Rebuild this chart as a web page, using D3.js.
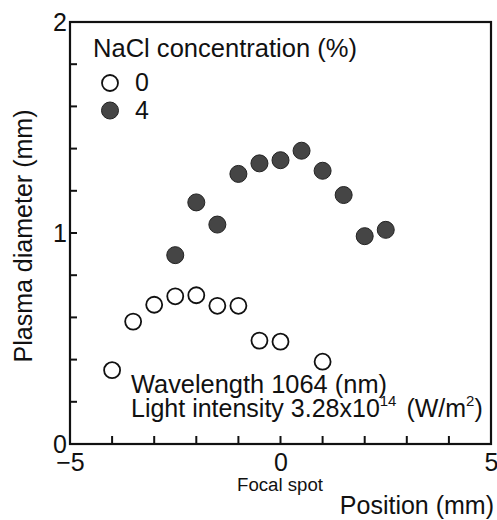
<!DOCTYPE html>
<html>
<head>
<meta charset="utf-8">
<script src="https://cdn.jsdelivr.net/npm/d3@7"></script>
<style>
  body { margin: 0; background: #fff; }
  svg text { font-family: "Liberation Sans", Arial, sans-serif; fill: #111; }
</style>
</head>
<body>
<svg id="chart" width="497" height="520"></svg>
<script>
// data
const posOpen = [-4, -3.5, -3, -2.5, -2, -1.5, -1, -0.5, 0, 1];
const diaOpen = [0.35, 0.58, 0.66, 0.70, 0.705, 0.655, 0.655, 0.49, 0.485, 0.39];
const posFilled = [-2.5, -2, -1.5, -1, -0.5, 0, 0.5, 1, 1.5, 2, 2.5];
const diaFilled = [0.895, 1.145, 1.04, 1.28, 1.33, 1.345, 1.39, 1.295, 1.18, 0.985, 1.015];

const xTicks = [-5, -4, -3, -2, -1, 0, 1, 2, 3, 4, 5];
const xTickLabels = {"-5": "\u22125", "0": "0", "5": "5"};
const yTicks = [0, 0.2, 0.4, 0.6, 0.8, 1, 1.2, 1.4, 1.6, 1.8, 2];
const yTickLabels = {"0": "0", "1": "1", "2": "2"};
const legendItems = [{label: "0", filled: false}, {label: "4", filled: true}];

const svg = d3.select("#chart");
const x = d3.scaleLinear().domain([-5, 5]).range([70, 491]);
const y = d3.scaleLinear().domain([0, 2]).range([444, 22]);

// axis labels
const gx = svg.append("g").attr("transform", "translate(0,444)")
    .call(d3.axisBottom(x).tickValues(xTicks).tickSize(0).tickPadding(9)
        .tickFormat(d => xTickLabels[String(d)] || ""));
const gy = svg.append("g").attr("transform", "translate(70,0)")
    .call(d3.axisLeft(y).tickValues(yTicks).tickSize(0).tickPadding(3)
        .tickFormat(d => yTickLabels[String(+d.toFixed(1))] || ""));

[gx, gy].forEach(g => {
    g.select(".domain").remove();
    g.selectAll(".tick text").attr("font-size", 25)
        .style("font-family", '"Liberation Sans", Arial, sans-serif').attr("fill", "#111");
});

// inward ticks
svg.append("g").selectAll("line").data(xTicks).join("line")
    .attr("x1", d => x(d)).attr("x2", d => x(d))
    .attr("y1", y(0)).attr("y2", y(0) - 8)
    .attr("stroke", "#111").attr("stroke-width", 2);
svg.append("g").selectAll("line").data(yTicks).join("line")
    .attr("x1", x(-5)).attr("x2", x(-5) + 7)
    .attr("y1", d => y(d)).attr("y2", d => y(d))
    .attr("stroke", "#111").attr("stroke-width", 2);

// frame
svg.append("rect")
    .attr("x", x(-5)).attr("y", y(2))
    .attr("width", x(5) - x(-5)).attr("height", y(0) - y(2))
    .attr("fill", "none").attr("stroke", "#111").attr("stroke-width", 2.2);

// axis titles
svg.append("text")
    .attr("transform", `translate(32,${(y(0) + y(2)) / 2 + 3}) rotate(-90)`)
    .attr("text-anchor", "middle").attr("font-size", 25)
    .attr("textLength", 253).attr("lengthAdjust", "spacingAndGlyphs")
    .text("Plasma diameter (mm)");

svg.append("text")
    .attr("x", 494).attr("y", 514).attr("text-anchor", "end").attr("font-size", 25)
    .text("Position (mm)");

svg.append("text")
    .attr("x", 237).attr("y", 491).attr("font-size", 18)
    .attr("textLength", 86).attr("lengthAdjust", "spacingAndGlyphs")
    .text("Focal spot");

// points
svg.append("g").selectAll("circle")
    .data(posOpen.map((p, i) => [p, diaOpen[i]]))
    .join("circle")
    .attr("cx", d => x(d[0])).attr("cy", d => y(d[1])).attr("r", 8)
    .attr("fill", "#fff").attr("stroke", "#111").attr("stroke-width", 1.8);

svg.append("g").selectAll("circle")
    .data(posFilled.map((p, i) => [p, diaFilled[i]]))
    .join("circle")
    .attr("cx", d => x(d[0])).attr("cy", d => y(d[1])).attr("r", 8.5)
    .attr("fill", "#454545").attr("stroke", "#222").attr("stroke-width", 1);

// legend
svg.append("text").attr("x", 93).attr("y", 57).attr("font-size", 25)
    .attr("textLength", 264).attr("lengthAdjust", "spacingAndGlyphs")
    .text("NaCl concentration (%)");

const leg = svg.append("g").selectAll("g")
    .data(legendItems)
    .join("g")
    .attr("transform", (d, i) => `translate(110,${83 + i * 27.5})`);
leg.append("circle").attr("r", d => d.filled ? 8.5 : 8)
    .attr("fill", d => d.filled ? "#454545" : "#fff")
    .attr("stroke", d => d.filled ? "#222" : "#111")
    .attr("stroke-width", d => d.filled ? 1 : 1.8);
leg.append("text").attr("x", 25).attr("y", 8).attr("font-size", 25)
    .text(d => d.label);

// annotation
svg.append("text").attr("x", 131).attr("y", 393).attr("font-size", 25)
    .attr("textLength", 256).attr("lengthAdjust", "spacingAndGlyphs")
    .text("Wavelength 1064 (nm)");

const t2 = svg.append("text").attr("x", 131).attr("y", 417).attr("font-size", 25);
t2.append("tspan").text("Light intensity 3.28x10");
t2.append("tspan").attr("dy", -11).attr("font-size", 15).text("14");
t2.append("tspan").attr("dy", 11).attr("dx", 3).text(" (W/m");
t2.append("tspan").attr("dy", -11).attr("font-size", 15).text("2");
t2.append("tspan").attr("dy", 11).text(")");
</script>
</body>
</html>
